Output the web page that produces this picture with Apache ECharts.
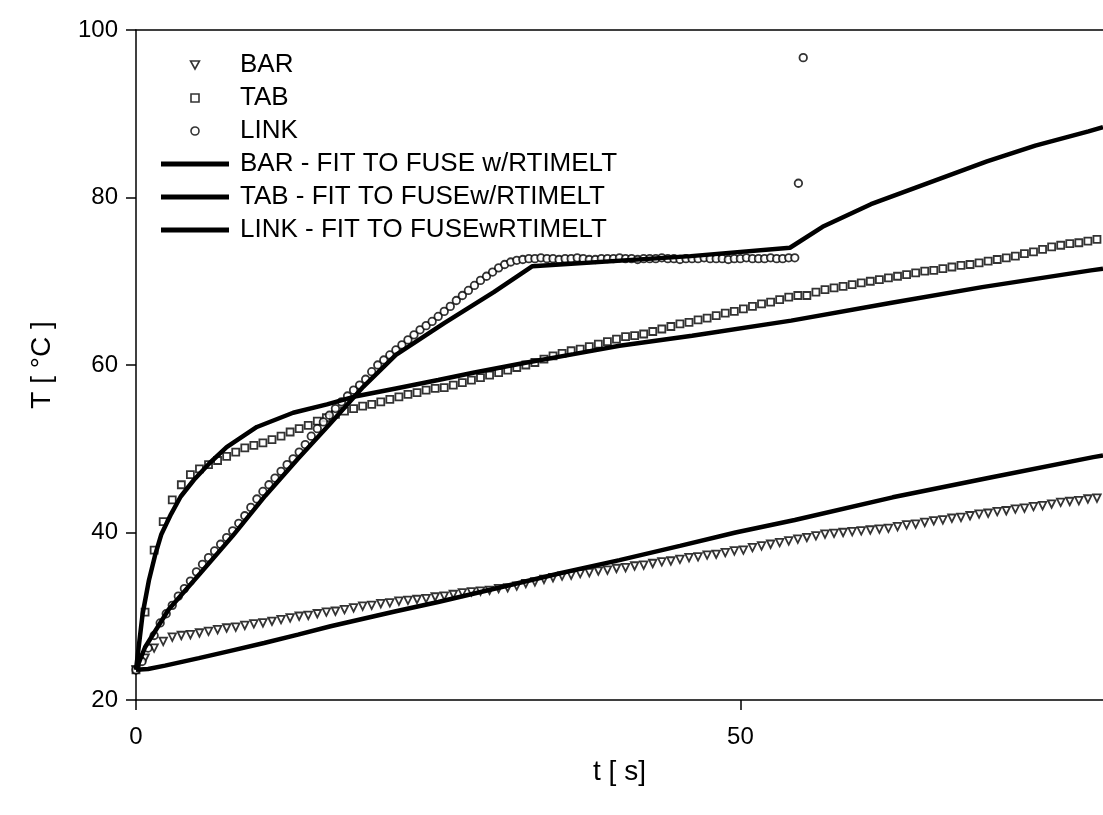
<!DOCTYPE html>
<html>
<head>
<meta charset="utf-8">
<script src="https://cdn.jsdelivr.net/npm/echarts@6/dist/echarts.min.js"></script>
<style>
html,body{margin:0;padding:0;background:#fff;}
#chart{width:1103px;height:815px;}
</style>
</head>
<body>
<div id="chart"></div>
<script>
// ---- data (t in s, T in °C) ----
const seriesNames = ['BAR', 'TAB', 'LINK',
  'BAR - FIT TO FUSE w/RTIMELT', 'TAB - FIT TO FUSEw/RTIMELT', 'LINK - FIT TO FUSEwRTIMELT'];
const xTicks = [0, 50];
const yTicks = [20, 40, 60, 80, 100];

// measured points, sampled every barStep / tabStep / linkStep seconds from t = 0
const barStep = 0.75;
const barTemp = [23.6,25.0,26.2,27.0,27.5,27.7,27.8,28.0,28.2,28.4,
  28.6,28.7,28.9,29.1,29.2,29.4,29.6,29.8,30.0,30.1,
  30.3,30.5,30.6,30.8,31.0,31.2,31.3,31.5,31.6,31.8,
  31.9,32.0,32.1,32.3,32.4,32.6,32.8,32.9,33.0,33.1,
  33.3,33.4,33.6,33.9,34.1,34.4,34.6,34.8,34.9,35.1,
  35.2,35.4,35.5,35.7,35.8,36.0,36.1,36.3,36.5,36.6,
  36.8,37.0,37.1,37.3,37.4,37.6,37.8,37.9,38.2,38.4,
  38.6,38.8,39.0,39.2,39.4,39.6,39.8,39.9,40.0,40.1,
  40.2,40.3,40.4,40.5,40.7,40.9,41.0,41.2,41.4,41.5,
  41.7,41.8,42.0,42.2,42.3,42.5,42.6,42.8,42.9,43.1,
  43.2,43.4,43.6,43.7,43.8,44.0,44.1];

const tabStep = 0.75;
const tabTemp = [23.6,30.5,37.9,41.3,43.9,45.7,46.9,47.6,48.1,48.6,
  49.1,49.6,50.1,50.4,50.7,51.1,51.5,52.0,52.4,52.8,
  53.3,53.7,54.1,54.5,54.8,55.1,55.3,55.6,55.9,56.2,
  56.5,56.7,57.0,57.2,57.3,57.6,57.9,58.2,58.5,58.8,
  59.1,59.4,59.7,60.0,60.3,60.7,61.1,61.4,61.7,61.9,
  62.2,62.5,62.8,63.1,63.4,63.5,63.7,64.0,64.3,64.6,
  64.9,65.1,65.4,65.6,65.9,66.2,66.4,66.7,67.0,67.3,
  67.5,67.8,68.1,68.3,68.3,68.7,69.0,69.2,69.4,69.6,
  69.8,70.0,70.2,70.4,70.6,70.8,71.0,71.2,71.3,71.5,
  71.7,71.9,72.0,72.2,72.4,72.6,72.8,73.0,73.3,73.5,
  73.8,74.1,74.3,74.5,74.6,74.8,75.0];

const linkStep = 0.5;
const linkTemp = [23.6,24.6,26.2,27.7,29.2,30.3,31.3,32.4,33.3,34.2,
  35.3,36.2,37.0,37.8,38.6,39.4,40.2,41.1,42.0,43.0,
  44.0,44.9,45.7,46.5,47.3,48.1,48.8,49.6,50.5,51.5,
  52.4,53.2,54.0,54.8,55.6,56.3,57.0,57.6,58.3,59.2,
  60.0,60.6,61.2,61.8,62.4,63.0,63.6,64.2,64.7,65.2,
  65.8,66.4,67.0,67.7,68.3,68.9,69.5,70.1,70.6,71.1,
  71.6,72.0,72.3,72.5,72.6,72.7,72.7,72.8,72.7,72.7,
  72.6,72.7,72.7,72.8,72.7,72.6,72.6,72.7,72.7,72.7,
  72.8,72.7,72.7,72.6,72.7,72.7,72.7,72.8,72.7,72.7,
  72.6,72.7,72.7,72.7,72.8,72.7,72.7,72.7,72.6,72.7,
  72.7,72.8,72.7,72.7,72.7,72.8,72.7,72.7,72.8,72.8];
const linkExtraTime = [54.8, 55.2];
const linkExtraTemp = [81.7, 96.7];

// fitted curves: [t, T]
const barFitTime = [0,1,2.4,5.2,7.9,10.6,13.4,16.1,18.8,21.5,25.0,30.0,35.0,40.0,45.0,49.6,54.5,62.6,70.8,79.2,80];
const barFitTemp = [23.6,23.7,24.1,25.0,25.9,26.8,27.8,28.8,29.7,30.6,31.7,33.4,35.1,36.7,38.4,40.0,41.5,44.2,46.6,49.0,49.2];
const tabFitTime = [0,0.55,1.07,1.6,2.1,2.9,3.7,4.8,6.1,7.5,10.0,13.0,15.8,18.0,21.5,25.0,28.0,32.0,36.2,40.0,46.0,54.2,62.4,70.0,79.0,80];
const tabFitTemp = [23.6,30.3,34.3,37.4,39.8,42.2,44.3,46.3,48.3,50.2,52.6,54.3,55.3,56.2,57.2,58.2,59.1,60.2,61.3,62.3,63.5,65.3,67.4,69.3,71.3,71.5];
const linkFitTime = [0,0.75,2.7,5.3,8.0,10.7,13.4,16.0,18.8,21.5,25.5,29.6,32.8,45.9,54.1,56.8,60.8,64.9,70.4,74.4,78.8,80];
const linkFitTemp = [23.6,26.3,30.8,35.1,39.6,44.4,48.8,52.9,57.4,61.2,65.0,68.7,71.8,73.0,74.0,76.5,79.2,81.4,84.3,86.2,87.9,88.4];

// ---- build ----
const stepped = (step, vals) => vals.map((v, i) => [i * step, v]);
const pairs = (ts, vs) => ts.map((t, i) => [t, vs[i]]);

const FONT = '"Liberation Sans", Arial, Helvetica, sans-serif';
const markerStyle = { color: '#fff', borderColor: '#000', borderWidth: 1.8 };
const fitLine = { color: '#000', width: 4.5 };

const markerIcons = ['path://M0,0 L10,0 L5,9 Z', 'path://M0,0 L8,0 L8,8 L0,8 Z', 'circle'];
const lineIcon = 'path://M0,0 L68,0 L68,5 L0,5 Z';
const legendData = seriesNames.map((n, i) => i < 3
  ? { name: n, icon: markerIcons[i], itemStyle: { color: '#fff', borderColor: '#000', borderWidth: 1.6 } }
  : { name: n, icon: lineIcon, itemStyle: { color: '#000', borderWidth: 0 } });

const chart = echarts.init(document.getElementById('chart'), null, { renderer: 'canvas' });
chart.setOption({
  animation: false,
  backgroundColor: '#fff',
  textStyle: { fontFamily: FONT, color: '#000' },
  grid: { left: 136, top: 30, width: 976, height: 670, containLabel: false },
  legend: {
    orient: 'vertical', left: 156, top: 47,
    itemWidth: 68, itemHeight: 8, itemGap: 7,
    symbolKeepAspect: true,
    textStyle: { fontFamily: FONT, fontSize: 26, lineHeight: 26, color: '#000', padding: [0, 0, 0, 6] },
    data: legendData,
    selectedMode: false
  },
  xAxis: [{
    type: 'value', min: 0, max: 80, interval: 50,
    name: 't [ s]', nameLocation: 'middle', nameGap: 58,
    nameTextStyle: { fontFamily: FONT, fontSize: 28, color: '#000' },
    axisLine: { show: true, onZero: false, lineStyle: { color: '#000', width: 1.5 } },
    axisTick: { show: true, inside: false, length: 10, lineStyle: { color: '#000', width: 1.5 } },
    axisLabel: { fontFamily: FONT, fontSize: 24, color: '#000', margin: 25, showMaxLabel: false,
      formatter: v => (xTicks.indexOf(v) >= 0 ? String(v) : '') },
    splitLine: { show: false }
  }, {
    type: 'value', position: 'top', min: 0, max: 80,
    axisLine: { show: true, lineStyle: { color: '#000', width: 1.5 } },
    axisTick: { show: false }, axisLabel: { show: false }, splitLine: { show: false }
  }],
  yAxis: {
    type: 'value', min: 20, max: 100, interval: 20,
    name: 'T [ °C ]', nameLocation: 'middle', nameGap: 80, nameRotate: 90,
    nameTextStyle: { fontFamily: FONT, fontSize: 28, color: '#000' },
    axisLine: { show: true, onZero: false, lineStyle: { color: '#000', width: 1.5 } },
    axisTick: { show: true, inside: false, length: 10, lineStyle: { color: '#000', width: 1.5 } },
    axisLabel: { fontFamily: FONT, fontSize: 24, color: '#000', margin: 18,
      formatter: v => (yTicks.indexOf(v) >= 0 ? String(v) : '') },
    splitLine: { show: false }
  },
  series: [
    { name: seriesNames[0], type: 'scatter', symbol: 'triangle', symbolRotate: 180, symbolSize: 7.5,
      itemStyle: markerStyle, data: stepped(barStep, barTemp), z: 2, emphasis: { disabled: true } },
    { name: seriesNames[1], type: 'scatter', symbol: 'rect', symbolSize: 7,
      itemStyle: markerStyle, data: stepped(tabStep, tabTemp), z: 2, emphasis: { disabled: true } },
    { name: seriesNames[2], type: 'scatter', symbol: 'circle', symbolSize: 7.5,
      itemStyle: markerStyle, data: stepped(linkStep, linkTemp).concat(pairs(linkExtraTime, linkExtraTemp)),
      z: 2, emphasis: { disabled: true } },
    { name: seriesNames[3], type: 'line', symbol: 'none', showSymbol: false, lineStyle: fitLine,
      itemStyle: { color: '#000' }, data: pairs(barFitTime, barFitTemp), z: 3, emphasis: { disabled: true } },
    { name: seriesNames[4], type: 'line', symbol: 'none', showSymbol: false, lineStyle: fitLine,
      itemStyle: { color: '#000' }, data: pairs(tabFitTime, tabFitTemp), z: 3, emphasis: { disabled: true } },
    { name: seriesNames[5], type: 'line', symbol: 'none', showSymbol: false, lineStyle: fitLine,
      itemStyle: { color: '#000' }, data: pairs(linkFitTime, linkFitTemp), z: 3, emphasis: { disabled: true } }
  ]
});
</script>
</body>
</html>
